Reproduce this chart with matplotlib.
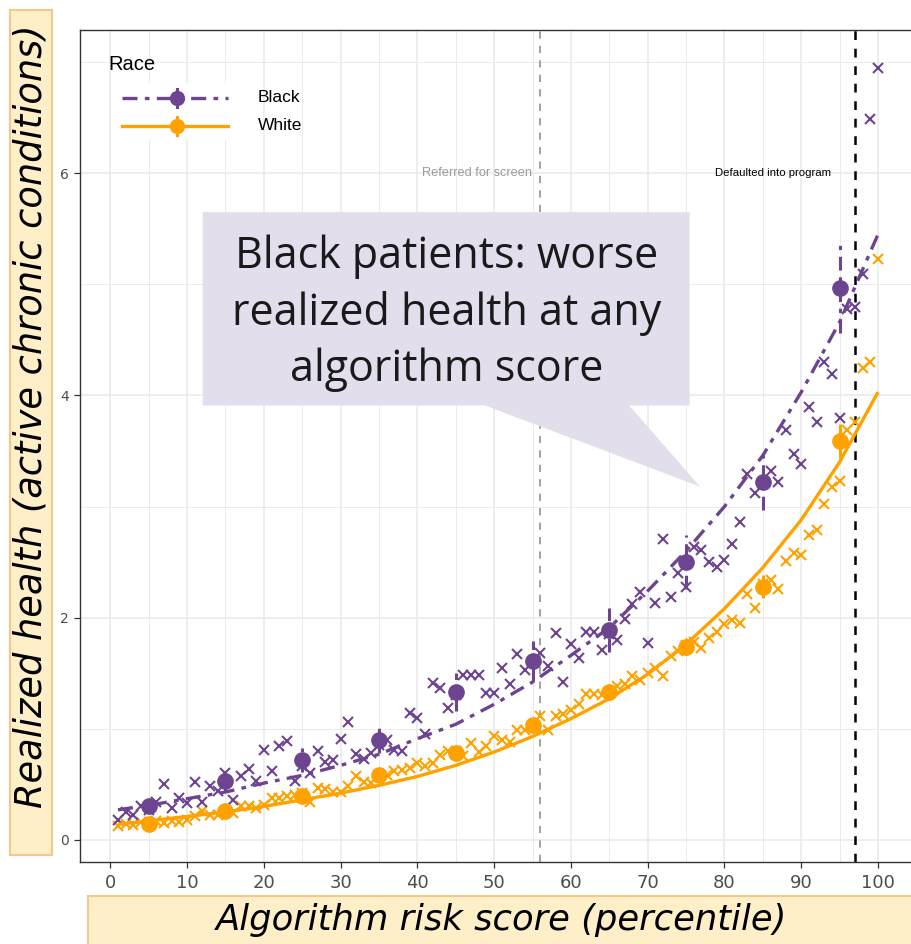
import numpy as np
import matplotlib
matplotlib.use("Agg")
import matplotlib.pyplot as plt
from matplotlib.patches import Rectangle, Polygon
from matplotlib.ticker import MultipleLocator

# percentile-level means
pct = np.arange(1, 101)
black_pts = [0.18, 0.25, 0.22, 0.30, 0.27, 0.34, 0.50, 0.29, 0.38, 0.33,
             0.52, 0.34, 0.48, 0.44, 0.60, 0.36, 0.57, 0.64, 0.53, 0.81,
             0.62, 0.84, 0.89, 0.53, 0.66, 0.60, 0.80, 0.70, 0.72, 0.91,
             1.06, 0.77, 0.73, 0.78, 0.85, 0.90, 0.81, 0.80, 1.14, 1.10,
             0.95, 1.41, 1.37, 1.19, 1.30, 1.48, 1.48, 1.48, 1.32, 1.32,
             1.55, 1.40, 1.67, 1.53, 1.60, 1.68, 1.56, 1.86, 1.42, 1.76,
             1.64, 1.87, 1.87, 1.71, 1.85, 1.80, 1.99, 2.12, 2.23, 1.77,
             2.13, 2.71, 2.19, 2.40, 2.28, 2.64, 2.61, 2.50, 2.46, 2.52,
             2.66, 2.86, 3.29, 3.12, 3.20, 3.32, 3.22, 3.69, 3.47, 3.38,
             3.90, 3.76, 4.30, 4.19, 3.80, 4.78, 4.80, 5.09, 6.49, 6.95]
white_pts = [0.12, 0.14, 0.13, 0.16, 0.15, 0.17, 0.15, 0.17, 0.16, 0.18,
             0.21, 0.26, 0.22, 0.22, 0.26, 0.24, 0.30, 0.30, 0.29, 0.31,
             0.38, 0.38, 0.39, 0.40, 0.42, 0.34, 0.47, 0.46, 0.43, 0.43,
             0.48, 0.57, 0.52, 0.51, 0.58, 0.58, 0.62, 0.63, 0.65, 0.69,
             0.66, 0.69, 0.76, 0.80, 0.80, 0.75, 0.87, 0.79, 0.84, 0.93,
             0.90, 0.88, 0.99, 0.99, 1.03, 1.11, 0.99, 1.11, 1.13, 1.17,
             1.22, 1.31, 1.31, 1.30, 1.33, 1.38, 1.40, 1.47, 1.44, 1.50,
             1.55, 1.47, 1.65, 1.70, 1.75, 1.78, 1.73, 1.82, 1.87, 1.94,
             1.98, 1.95, 2.21, 2.09, 2.30, 2.34, 2.26, 2.51, 2.58, 2.56,
             2.74, 2.79, 3.02, 3.18, 3.23, 3.69, 3.76, 4.25, 4.30, 5.23]

# decile means with error bars
bins = [5, 15, 25, 35, 45, 55, 65, 75, 85, 95]
black_bin = [0.30, 0.53, 0.72, 0.90, 1.33, 1.61, 1.89, 2.50, 3.22, 4.97]
black_err = [0.06, 0.09, 0.11, 0.12, 0.17, 0.18, 0.20, 0.24, 0.25, 0.41]
white_bin = [0.14, 0.26, 0.39, 0.58, 0.78, 1.03, 1.33, 1.74, 2.28, 3.59]
white_err = [0.02, 0.03, 0.03, 0.04, 0.05, 0.06, 0.07, 0.08, 0.10, 0.15]

# fitted curves
fit_x = [1, 5, 10, 15, 20, 25, 30, 35, 40, 45, 50, 55, 60, 65, 70, 75, 80, 85, 90, 95, 100]
black_fit = [0.27, 0.31, 0.37, 0.43, 0.51, 0.58, 0.67, 0.77, 0.91, 1.04, 1.22,
             1.42, 1.66, 1.91, 2.24, 2.60, 3.00, 3.46, 4.03, 4.66, 5.45]
white_fit = [0.14, 0.17, 0.21, 0.25, 0.30, 0.36, 0.42, 0.49, 0.57, 0.67, 0.79,
             0.93, 1.09, 1.27, 1.49, 1.76, 2.08, 2.45, 2.88, 3.40, 4.03]

cutoffs = [56, 97]
cutoff_labels = ["Referred for screen", "Defaulted into program"]

PURPLE = "#6c448f"
ORANGE = "#ffa200"
DOTDASH = (0, (4.5, 2.2, 1.4, 2.2))
W, H = 912, 944

fig = plt.figure(figsize=(W / 100, H / 100), dpi=100)
ax = fig.add_axes([80 / W, 82 / H, 836 / W, 832 / H])

ax.set_xlim(-3.95, 104.95)
ax.set_ylim(-0.2, 7.29)
ax.xaxis.set_major_locator(MultipleLocator(10))
ax.xaxis.set_minor_locator(MultipleLocator(5))
ax.yaxis.set_major_locator(MultipleLocator(2))
ax.yaxis.set_minor_locator(MultipleLocator(1))
ax.grid(which="major", color="#ebebeb", lw=1.2, zorder=0)
ax.grid(which="minor", color="#ebebeb", lw=0.7, zorder=0)
ax.set_axisbelow(True)
ax.tick_params(which="minor", length=0)
ax.tick_params(which="major", length=4, color="#333333", width=0.9)
for lab in ax.get_xticklabels():
    lab.set_family("Liberation Sans Narrow")
ax.tick_params(axis="x", labelsize=13, labelcolor="#4d4d4d", pad=5)
ax.tick_params(axis="y", labelsize=10, labelcolor="#4d4d4d", pad=4)
for s in ax.spines.values():
    s.set_color("#333333")
    s.set_linewidth(1.0)

# threshold lines and their labels
ax.axvline(cutoffs[0], color="#9a9a9a", lw=1.3, ls=(0, (4, 4)), zorder=1)
ax.axvline(cutoffs[1], color="black", lw=1.8, ls=(0, (3.5, 3.5)), zorder=1)
ax.text(47.8, 6.0, cutoff_labels[0], color="#9a9a9a", fontsize=9.2,
        ha="center", va="center", family="Liberation Sans")
ax.text(86.3, 6.0, cutoff_labels[1], color="black", fontsize=8.2,
        ha="center", va="center", family="Liberation Sans")

# percentile crosses
ax.plot(pct, white_pts, "x", color=ORANGE, ms=7.5, mew=1.5, zorder=3)
ax.plot(pct, black_pts, "x", color=PURPLE, ms=7.5, mew=1.5, zorder=3)

# fitted curves
ax.plot(fit_x, white_fit, color=ORANGE, lw=2.4, zorder=4, solid_capstyle="butt")
ax.plot(fit_x, black_fit, color=PURPLE, lw=2.4, ls=DOTDASH, zorder=4)

# decile means with error bars
ax.errorbar(bins, white_bin, yerr=white_err, fmt="o", color=ORANGE, ms=11,
            elinewidth=2.2, capsize=0, zorder=5)
eb = ax.errorbar(bins, black_bin, yerr=black_err, fmt="o", color=PURPLE, ms=11,
                 elinewidth=2.2, capsize=0, zorder=5)
eb[2][0].set_linestyle(DOTDASH)

# legend drawn by hand
ta = ax.transAxes
ax.text(28 / 836, 1 - 35 / 832, "Race", transform=ta, fontsize=14.5,
        ha="left", va="center", family="Liberation Sans")
ax.add_patch(Rectangle((35 / 836, 1 - 110 / 832), 120 / 836, 57 / 832,
                       transform=ta, facecolor="white", edgecolor="none", zorder=6))
for i, (name, col, ls) in enumerate([("Black", PURPLE, DOTDASH), ("White", ORANGE, "-")]):
    yk = 1 - (68 + 28 * i) / 832
    ax.plot([42 / 836, 148 / 836], [yk, yk], color=col, lw=2.4, ls=ls,
            transform=ta, zorder=7, clip_on=False)
    ax.plot([97 / 836, 97 / 836], [yk - 9 / 832, yk + 9 / 832], color=col, lw=2.2,
            transform=ta, zorder=7, clip_on=False)
    ax.plot([97 / 836], [yk], "o", color=col, ms=10, transform=ta, zorder=8,
            clip_on=False)
    ax.text(178 / 836, yk, name, transform=ta, fontsize=12.5, ha="left",
            va="center", family="Liberation Sans", zorder=8)

# callout box
callout = [(12.04, 5.65), (75.46, 5.65), (75.46, 3.91), (67.6, 3.91),
           (76.8, 3.18), (48.8, 3.91), (12.04, 3.91)]
ax.add_patch(Polygon(callout, closed=True, facecolor="#e2deeb", edgecolor="none",
                     zorder=9))
ax.text(43.8, 4.74, "Black patients: worse\nrealized health at any\nalgorithm score",
        ha="center", va="center", fontsize=31, color="#1a1a1a", family="Open Sans",
        linespacing=1.36, zorder=10)

# axis title boxes
fig.patches.append(Rectangle((10 / W, 1 - 855 / H), 42 / W, 845 / H,
                             transform=fig.transFigure, facecolor="#ffefc9",
                             edgecolor="#f6c68a", lw=1.5))
fig.patches.append(Rectangle((88 / W, -0.02), 0.95, 0.02 + 48 / H,
                             transform=fig.transFigure, facecolor="#ffefc9",
                             edgecolor="#f6c68a", lw=1.5))
fig.text(31 / W, 1 - 416 / H, "Realized health (active chronic conditions)",
         rotation=90, ha="center", va="center", fontsize=26.5, style="italic",
         family="DejaVu Sans")
fig.text(502 / W, 1 - 920 / H, "Algorithm risk score (percentile)",
         ha="center", va="center", fontsize=25.5, style="italic",
         family="DejaVu Sans")

fig.savefig("out.png", dpi=100)
